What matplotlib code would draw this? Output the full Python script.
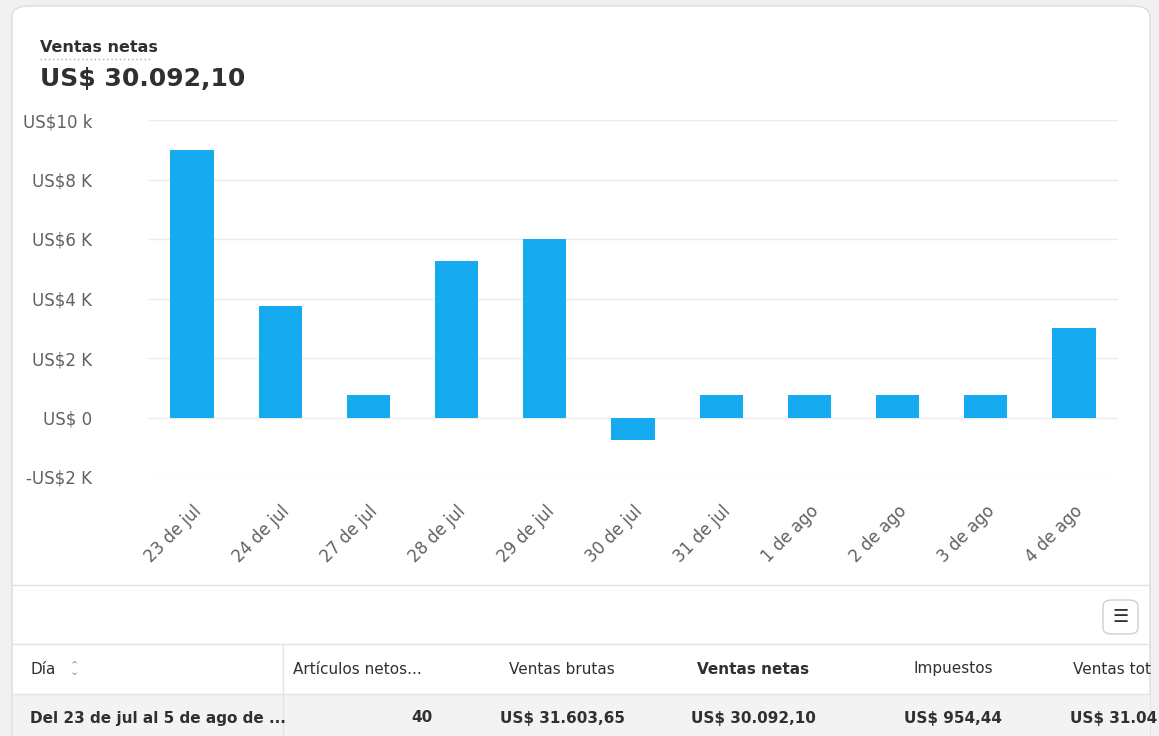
import matplotlib.pyplot as plt
from matplotlib.patches import FancyBboxPatch, Rectangle
from matplotlib.lines import Line2D

# data
days = ["23 de jul", "24 de jul", "27 de jul", "28 de jul", "29 de jul", "30 de jul",
        "31 de jul", "1 de ago", "2 de ago", "3 de ago", "4 de ago"]
net_sales = [9000, 3740, 740, 5250, 6000, -770, 740, 740, 740, 740, 3000]
y_ticks = [-2000, 0, 2000, 4000, 6000, 8000, 10000]
y_labels = ["-US$2 K", "US$ 0", "US$2 K", "US$4 K", "US$6 K", "US$8 K", "US$10 k"]
table_headers = ["Día", "Artículos netos...", "Ventas brutas", "Ventas netas", "Impuestos", "Ventas tot"]
table_row = ["Del 23 de jul al 5 de ago de ...", "40", "US$ 31.603,65", "US$ 30.092,10", "US$ 954,44", "US$ 31.04"]

W, H = 1159, 736
fig = plt.figure(figsize=(W / 100, H / 100), dpi=100)
fig.patch.set_facecolor("#f1f1f1")

def fx(x): return x / W
def fy(y): return 1 - y / H

# card
card = FancyBboxPatch((fx(12), fy(760)), fx(1150 - 12), (760 - 6) / H,
                      boxstyle="round,pad=0,rounding_size=0.015", transform=fig.transFigure,
                      facecolor="white", edgecolor="#dcdcdc", lw=1, zorder=-5)
fig.patches.append(card)

fig.text(fx(40), fy(47), "Ventas netas", fontsize=11.5, fontweight="semibold", color="#303030", va="center")
fig.lines.append(Line2D([fx(40), fx(150)], [fy(59), fy(59)], transform=fig.transFigure,
                        color="#aaaaaa", lw=1, ls=(0, (1, 2))))
fig.text(fx(40), fy(79), "US$ 30.092,10", fontsize=18, fontweight="bold", color="#303030", va="center")

ax = fig.add_axes([fx(148), fy(477), fx(1118 - 148), (477 - 120) / H])
ax.set_zorder(5)
ax.bar(range(len(days)), net_sales, width=0.49, color="#16abf0", zorder=3)
ax.set_xlim(-0.5, len(days) - 0.5)
ax.set_ylim(-2000, 10000)
ax.set_yticks(y_ticks)
ax.set_yticklabels(y_labels)
ax.grid(axis="y", color="#ebebeb", lw=1)
for s in ax.spines.values():
    s.set_visible(False)
ax.tick_params(length=0, labelsize=12, labelcolor="#616161")
ax.tick_params(axis="y", pad=40)
for lbl in ax.get_yticklabels():
    lbl.set_horizontalalignment("right")
ax.set_xticks(range(len(days)))
ax.set_xticklabels(days, rotation=45, ha="right", rotation_mode="anchor")
ax.tick_params(axis="x", pad=18)
ax.set_facecolor("none")

# separators
fig.patches.append(Rectangle((fx(13), 0), fx(1150 - 13), fy(695), transform=fig.transFigure,
                             facecolor="#f3f3f3", edgecolor="none", zorder=-4))
for yy in [585, 644, 694]:
    fig.lines.append(Line2D([fx(12), fx(1150)], [fy(yy), fy(yy)], transform=fig.transFigure,
                            color="#e3e3e3", lw=1))
fig.lines.append(Line2D([fx(283), fx(283)], [0, fy(644)], transform=fig.transFigure, color="#e3e3e3", lw=1))

# table view button
btn = FancyBboxPatch((fx(1103), fy(634)), fx(35), 34 / H, boxstyle="round,pad=0,rounding_size=0.008",
                     transform=fig.transFigure, facecolor="white", edgecolor="#cfcfcf", lw=1)
fig.patches.append(btn)
fig.text(fx(1120.5), fy(617), "☰", fontsize=13, color="#303030", ha="center", va="center")

# table
head_x = [30, 293, 562, 753, 953, 1073]
head_ha = ["left", "left", "center", "center", "center", "left"]
row_x = [30, 433, 562, 753, 953, 1070]
row_ha = ["left", "right", "center", "center", "center", "left"]
for i, h in enumerate(table_headers):
    fig.text(fx(head_x[i]), fy(669), h, fontsize=11, color="#303030", ha=head_ha[i], va="center",
             fontweight="bold" if h == "Ventas netas" else "normal")
fig.text(fx(74), fy(669), "⌃\n⌄", fontsize=8, color="#8a8a8a", ha="center", va="center", linespacing=0.6)
for i, v in enumerate(table_row):
    fig.text(fx(row_x[i]), fy(718), v, fontsize=11, color="#303030", ha=row_ha[i], va="center",
             fontweight="bold")

fig.savefig("out.png", dpi=100, facecolor=fig.get_facecolor())
